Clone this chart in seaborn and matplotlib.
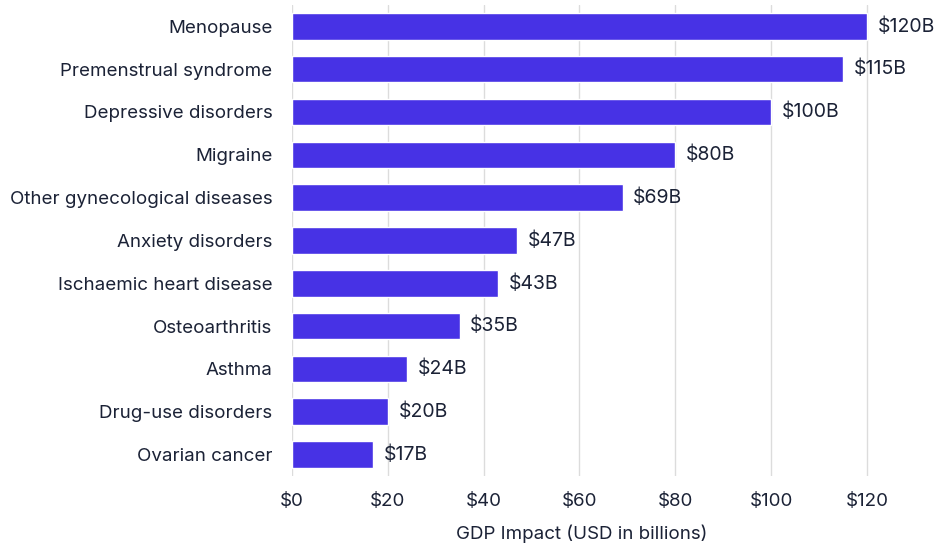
import matplotlib
matplotlib.use("Agg")
import matplotlib.pyplot as plt
import seaborn as sns
import pandas as pd

conditions = [
    "Menopause", "Premenstrual syndrome", "Depressive disorders", "Migraine",
    "Other gynecological diseases", "Anxiety disorders", "Ischaemic heart disease",
    "Osteoarthritis", "Asthma", "Drug-use disorders", "Ovarian cancer",
]
impact_billions = [120, 115, 100, 80, 69, 47, 43, 35, 24, 20, 17]
x_ticks = [0, 20, 40, 60, 80, 100, 120]
x_tick_labels = ["$0", "$20", "$40", "$60", "$80", "$100", "$120"]

df = pd.DataFrame({"condition": conditions, "impact": impact_billions})

sns.set_theme(style="white")
plt.rcParams["font.family"] = ["Inter", "DejaVu Sans"]

text_color = "#1b2236"
bar_color = "#4732e5"

fig = plt.figure(figsize=(9.38, 5.44), dpi=100)
ax = fig.add_axes([0.3113, 0.125, 0.618, 0.866])

sns.barplot(data=df, x="impact", y="condition", color=bar_color, width=0.62,
            saturation=1, ax=ax, zorder=2)

ax.set_xlim(0, 121)
ax.set_xticks(x_ticks)
ax.set_xticklabels(x_tick_labels)
ax.grid(axis="x", color="#dcdcdc", linewidth=1, zorder=0)
ax.grid(axis="y", visible=False)
ax.set_axisbelow(True)
for s in ax.spines.values():
    s.set_visible(False)

ax.tick_params(axis="y", length=0, pad=14, labelsize=13.5, labelcolor=text_color)
ax.tick_params(axis="x", length=0, pad=12, labelsize=13.5, labelcolor=text_color)
ax.set_ylabel("")
ax.set_xlabel("GDP Impact (USD in billions)", fontsize=13.5, color=text_color, labelpad=11)

for i, v in enumerate(impact_billions):
    ax.text(v + 2.2, i, f"${v}B", va="center", ha="left", fontsize=14, color=text_color)

fig.savefig("out.png", dpi=100)
